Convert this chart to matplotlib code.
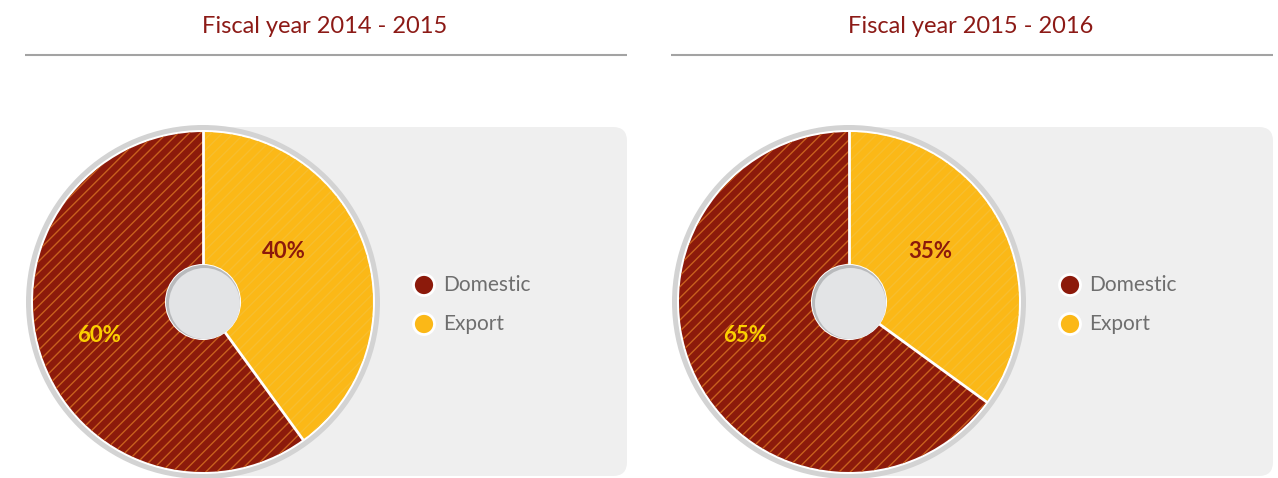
import matplotlib
matplotlib.use("Agg")
import matplotlib.pyplot as plt
import numpy as np
from matplotlib.patches import Circle, FancyBboxPatch

titles = ["Fiscal year 2014 - 2015", "Fiscal year 2015 - 2016"]
categories = ["Domestic", "Export"]
export_share = [40, 35]
domestic_share = [60, 65]

DOM = "#8c1a0b"
EXP = "#fbb817"
TITLE_C = "#8c1a16"

plt.rcParams["hatch.linewidth"] = 1.0
W, H = 1278, 478
fig = plt.figure(figsize=(W / 100, H / 100), dpi=100)
ax = fig.add_axes([0, 0, 1, 1])

def Y(y):
    return H - y

offsets = [0, 646]
for i, off in enumerate(offsets):
    cx, cy = 203 + off, Y(302)
    # title
    ax.text(325 + off, Y(26), titles[i], ha="center", va="center",
            fontsize=17, color=TITLE_C, family=["Lato", "DejaVu Sans"])
    ax.plot([25 + off, 627 + off], [Y(55), Y(55)], color="#a3a3a3", lw=1.5,
            solid_capstyle="butt")
    # grey panel
    box = FancyBboxPatch((cx, 2), 627 + off - cx, Y(127) - 2,
                         boxstyle="round,pad=0,rounding_size=14",
                         fc="#efefef", ec="none", zorder=0)
    ax.add_patch(box)
    # ring
    ax.add_patch(Circle((cx, cy), 177, fc="#d3d3d3", ec="none", zorder=1))
    ax.add_patch(Circle((cx, cy), 172, fc="white", ec="none", zorder=1))
    vals = [export_share[i], domestic_share[i]]
    wedges, _ = ax.pie(vals, center=(cx, cy), radius=170, startangle=90,
                       counterclock=False, colors=[EXP, DOM],
                       wedgeprops=dict(linewidth=0))
    for w in wedges:
        w.set_zorder(2)
    wedges[1].set_hatch("///")
    wedges[1].set_edgecolor("#c8601e")
    wedges[1].set_linewidth(0)
    wedges[0].set_hatch("///")
    wedges[0].set_edgecolor("#f7be2e")
    wedges[0].set_linewidth(0)
    # white separators
    a0 = np.deg2rad(90)
    a1 = np.deg2rad(90 - 360 * export_share[i] / 100)
    for a in (a0, a1):
        ax.plot([cx, cx + 170 * np.cos(a)], [cy, cy + 170 * np.sin(a)],
                color="white", lw=2, zorder=3)
    # hole with shadow
    ax.add_patch(Circle((cx, cy), 38, fc="white", ec="none", zorder=4))
    ax.add_patch(Circle((cx, cy), 37, fc="#b9babc", ec="none", zorder=4))
    ax.add_patch(Circle((cx + 1.5, cy - 1.5), 35.5, fc="#e3e4e6", ec="none", zorder=4))
    # labels
    ax.text(cx + 81, Y(252), f"{export_share[i]}%", ha="center", va="center",
            fontsize=16, fontweight="bold", color=DOM, zorder=5,
            family=["Lato", "DejaVu Sans"])
    ax.text(cx - 104, Y(336), f"{domestic_share[i]}%", ha="center", va="center",
            fontsize=16, fontweight="bold", color="#fbd000", zorder=5,
            family=["Lato", "DejaVu Sans"])
    # legend
    for j, (lab, col) in enumerate(zip(categories, [DOM, EXP])):
        yy = Y(285 + 39 * j)
        ax.add_patch(Circle((424 + off, yy), 10.5, fc=col, ec="white", lw=2, zorder=5))
        ax.text(443 + off, yy, lab, ha="left", va="center", fontsize=15,
                color="#6e6e6e", family=["Lato", "DejaVu Sans"], fontweight="normal")

ax.set_xlim(0, W)
ax.set_ylim(0, H)
ax.set_aspect("auto")
ax.axis("off")
fig.savefig("out.png", dpi=100, facecolor="white")
